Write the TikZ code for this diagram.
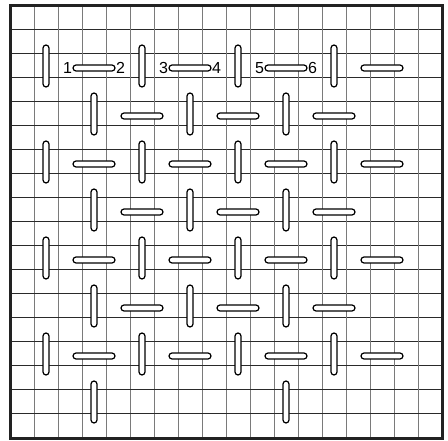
\documentclass[tikz,border=0pt]{standalone}
\usepackage{fontspec}
\setmainfont{Liberation Sans}
\definecolor{vgrid}{HTML}{7A7A7A}
\definecolor{hgrid}{HTML}{2A2A2A}
\definecolor{frame}{HTML}{222222}
\begin{document}
\begin{tikzpicture}[x=1pt,y=-1pt,
  vline/.style={draw=vgrid,line width=1pt},
  hline/.style={draw=hgrid,line width=1pt},
  border/.style={draw=frame,line width=3.6pt},
  hst/.style={draw=black,fill=white,line width=1.2pt,rounded corners=3pt,
    minimum width=42pt,minimum height=6pt,inner sep=0pt,outer sep=0pt},
  vst/.style={draw=black,fill=white,line width=1.2pt,rounded corners=3pt,
    minimum width=6pt,minimum height=42pt,inner sep=0pt,outer sep=0pt},
  num/.style={font=\fontsize{16}{16}\selectfont,inner sep=1pt,outer sep=0pt}]
\useasboundingbox (0,0) rectangle (448,441);
% grid
\foreach \k in {1,...,17} {
  \draw[vline] (10+24*\k,5.5) -- (10+24*\k,438.5);
  \draw[hline] (10.5,6+24*\k) -- (442.5,6+24*\k);
}
\draw[border] (10.5,5.5) rectangle (442.5,438.5);
% stitches: rows of type A
\foreach \r in {2,6,10,14} {
  \foreach \c in {1,5,9,13}
    \node[vst] (v-\r-\c) at (22+24*\c,18+24*\r) {};
  \foreach \c in {3,7,11,15}
    \node[hst] (h-\r-\c) at (22+24*\c,20+24*\r) {};
}
% rows of type B
\foreach \r in {4,8,12} {
  \foreach \c in {3,7,11}
    \node[vst] (v-\r-\c) at (22+24*\c,18+24*\r) {};
  \foreach \c in {5,9,13}
    \node[hst] (h-\r-\c) at (22+24*\c,20+24*\r) {};
}
% last row
\foreach \c in {3,11}
  \node[vst] (v-16-\c) at (22+24*\c,18+24*16) {};
% labels
\node[num,anchor=east] (n1) at (h-2-3.west) {1};
\node[num,anchor=west] (n2) at (h-2-3.east) {2};
\node[num,anchor=east] (n3) at (h-2-7.west) {3};
\node[num,anchor=west] (n4) at (h-2-7.east) {4};
\node[num,anchor=east] (n5) at (h-2-11.west) {5};
\node[num,anchor=west] (n6) at (h-2-11.east) {6};
\end{tikzpicture}
\end{document}
